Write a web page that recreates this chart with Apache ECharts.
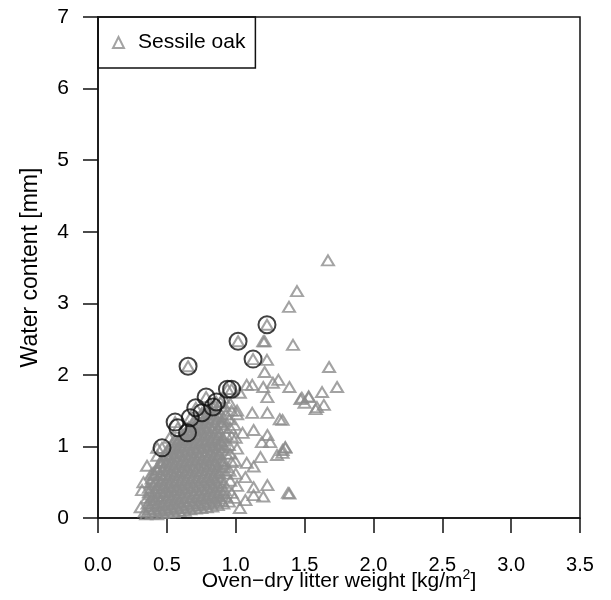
<!DOCTYPE html>
<html>
<head>
<meta charset="utf-8">
<script src="https://cdn.jsdelivr.net/npm/echarts@6/dist/echarts.min.js"></script>
<style>
  html, body { margin: 0; padding: 0; background: #fff; }
  #chart { width: 611px; height: 600px; }
</style>
</head>
<body>
<div id="chart"></div>
<script>
// tick labels
const xTicks = [0, 0.5, 1, 1.5, 2, 2.5, 3, 3.5];
const yTicks = [0, 1, 2, 3, 4, 5, 6, 7];

// sessile oak litter samples: [oven-dry weight kg/m2, water content mm]
const oakCloud = [
  [0.35,0.05],[0.37,0.12],[0.36,0.2],[0.355,0.28],[0.37,0.36],[0.34,0.09],
  [0.39,0.06],[0.41,0.13],[0.40,0.21],[0.395,0.3],[0.41,0.38],[0.40,0.47],[0.39,0.55],[0.41,0.61],
  [0.43,0.05],[0.45,0.12],[0.44,0.2],[0.435,0.29],[0.45,0.36],[0.44,0.45],[0.43,0.53],[0.455,0.6],[0.44,0.68],[0.45,0.77],
  [0.47,0.07],[0.49,0.14],[0.48,0.22],[0.475,0.31],[0.49,0.38],[0.48,0.46],[0.47,0.55],[0.49,0.62],[0.48,0.71],[0.475,0.8],[0.49,0.88],
  [0.51,0.08],[0.53,0.15],[0.52,0.24],[0.515,0.32],[0.53,0.4],[0.52,0.48],[0.51,0.57],[0.53,0.65],[0.52,0.73],[0.515,0.82],[0.53,0.9],[0.52,0.98],
  [0.55,0.08],[0.57,0.16],[0.56,0.25],[0.555,0.33],[0.57,0.42],[0.56,0.5],[0.55,0.59],[0.57,0.66],[0.56,0.75],[0.555,0.84],[0.57,0.92],[0.56,1.0],[0.55,1.07],
  [0.59,0.1],[0.61,0.18],[0.6,0.27],[0.595,0.35],[0.61,0.43],[0.6,0.52],[0.59,0.6],[0.61,0.68],[0.6,0.77],[0.595,0.86],[0.61,0.94],[0.6,1.02],[0.59,1.1],[0.61,1.16],
  [0.63,0.1],[0.65,0.19],[0.64,0.28],[0.635,0.36],[0.65,0.45],[0.64,0.53],[0.63,0.62],[0.65,0.7],[0.64,0.79],[0.635,0.88],[0.65,0.96],[0.64,1.05],[0.63,1.13],[0.65,1.21],
  [0.67,0.12],[0.69,0.2],[0.68,0.29],[0.675,0.38],[0.69,0.46],[0.68,0.55],[0.67,0.63],[0.69,0.72],[0.68,0.81],[0.675,0.89],[0.69,0.98],[0.68,1.06],[0.67,1.15],[0.69,1.23],[0.68,1.31],
  [0.71,0.13],[0.73,0.21],[0.72,0.3],[0.715,0.39],[0.73,0.47],[0.72,0.56],[0.71,0.65],[0.73,0.73],[0.72,0.82],[0.715,0.91],[0.73,0.99],[0.72,1.08],[0.71,1.17],[0.73,1.25],[0.72,1.33],[0.71,1.39],
  [0.75,0.14],[0.77,0.22],[0.76,0.31],[0.755,0.4],[0.77,0.49],[0.76,0.57],[0.75,0.66],[0.77,0.75],[0.76,0.83],[0.755,0.92],[0.77,1.01],[0.76,1.09],[0.75,1.18],[0.77,1.27],[0.76,1.36],[0.75,1.45],
  [0.79,0.15],[0.81,0.23],[0.8,0.32],[0.795,0.41],[0.81,0.5],[0.8,0.58],[0.79,0.67],[0.81,0.76],[0.8,0.85],[0.795,0.94],[0.81,1.02],[0.8,1.11],[0.79,1.2],[0.81,1.29],[0.8,1.38],[0.79,1.46],[0.81,1.53],
  [0.83,0.16],[0.85,0.25],[0.84,0.34],[0.835,0.43],[0.85,0.52],[0.84,0.6],[0.83,0.69],[0.85,0.78],[0.84,0.87],[0.835,0.96],[0.85,1.05],[0.84,1.13],[0.83,1.22],[0.85,1.31],[0.84,1.4],[0.83,1.48],[0.85,1.57],
  [0.87,0.18],[0.89,0.27],[0.88,0.36],[0.875,0.45],[0.89,0.54],[0.88,0.63],[0.87,0.72],[0.89,0.8],[0.88,0.89],[0.875,0.98],[0.89,1.07],[0.88,1.16],[0.87,1.25],[0.89,1.34],[0.88,1.42],[0.87,1.52],[0.89,1.62],
  [0.91,0.2],[0.93,0.3],[0.92,0.39],[0.915,0.49],[0.93,0.62],[0.92,0.71],[0.91,0.8],[0.93,0.9],[0.92,0.99],[0.915,1.08],[0.93,1.17],[0.92,1.26],[0.91,1.35],[0.93,1.45],[0.92,1.56],[0.91,1.68],
  [0.95,0.23],[0.97,0.35],[0.96,0.52],[0.955,0.66],[0.97,0.78],[0.96,0.9],[0.95,1.02],[0.97,1.14],[0.96,1.26],[0.955,1.38],[0.97,1.5],[0.96,1.6],
  [0.99,0.28],[1.01,0.45],[1.0,0.62],[0.995,0.8],[1.01,0.97],[1.0,1.12],[0.99,1.3],[1.01,1.45]
];

// more samples in the dense core
const oakCore = [
  [0.38,0.09],[0.375,0.17],[0.385,0.25],[0.38,0.33],[0.37,0.42],[0.385,0.5],
  [0.42,0.09],[0.425,0.17],[0.415,0.26],[0.42,0.34],[0.43,0.42],[0.42,0.51],[0.415,0.6],[0.425,0.68],
  [0.46,0.1],[0.465,0.18],[0.455,0.27],[0.46,0.35],[0.47,0.43],[0.46,0.51],[0.455,0.6],[0.465,0.68],[0.46,0.77],[0.47,0.84],
  [0.50,0.11],[0.505,0.19],[0.495,0.28],[0.50,0.36],[0.51,0.44],[0.50,0.53],[0.495,0.61],[0.505,0.69],[0.50,0.78],[0.51,0.86],[0.50,0.94],
  [0.54,0.12],[0.545,0.2],[0.535,0.29],[0.54,0.37],[0.55,0.45],[0.54,0.54],[0.535,0.62],[0.545,0.71],[0.54,0.79],[0.55,0.87],[0.54,0.96],[0.535,1.03],
  [0.58,0.13],[0.585,0.22],[0.575,0.3],[0.58,0.39],[0.59,0.47],[0.58,0.56],[0.575,0.64],[0.585,0.72],[0.58,0.81],[0.59,0.9],[0.58,0.98],[0.575,1.06],
  [0.62,0.14],[0.625,0.23],[0.615,0.31],[0.62,0.4],[0.63,0.49],[0.62,0.57],[0.615,0.66],[0.625,0.74],[0.62,0.83],[0.63,0.91],[0.62,1.0],[0.615,1.09],[0.625,1.17],
  [0.66,0.15],[0.665,0.24],[0.655,0.33],[0.66,0.42],[0.67,0.5],[0.66,0.59],[0.655,0.67],[0.665,0.76],[0.66,0.85],[0.67,0.93],[0.66,1.02],[0.655,1.1],[0.665,1.19],[0.66,1.27],
  [0.70,0.17],[0.705,0.25],[0.695,0.34],[0.70,0.43],[0.71,0.52],[0.70,0.6],[0.695,0.69],[0.705,0.78],[0.70,0.86],[0.71,0.95],[0.70,1.04],[0.695,1.12],[0.705,1.21],[0.70,1.29],
  [0.74,0.18],[0.745,0.27],[0.735,0.35],[0.74,0.44],[0.75,0.53],[0.74,0.62],[0.735,0.7],[0.745,0.79],[0.74,0.88],[0.75,0.97],[0.74,1.05],[0.735,1.14],[0.745,1.23],[0.74,1.32],[0.75,1.41],
  [0.78,0.19],[0.785,0.28],[0.775,0.37],[0.78,0.45],[0.79,0.54],[0.78,0.63],[0.775,0.72],[0.785,0.81],[0.78,0.89],[0.79,0.98],[0.78,1.07],[0.775,1.16],[0.785,1.25],[0.78,1.34],
  [0.82,0.2],[0.825,0.29],[0.815,0.38],[0.82,0.47],[0.83,0.56],[0.82,0.64],[0.815,0.73],[0.825,0.82],[0.82,0.91],[0.83,1.0],[0.82,1.09],[0.815,1.18],[0.825,1.26],[0.82,1.44],
  [0.86,0.22],[0.865,0.31],[0.855,0.4],[0.86,0.49],[0.87,0.57],[0.86,0.66],[0.855,0.75],[0.865,0.84],[0.86,0.93],[0.87,1.02],[0.86,1.11],[0.855,1.2],[0.865,1.38],[0.86,1.46],
  [0.90,0.24],[0.905,0.34],[0.895,0.44],[0.90,0.67],[0.91,0.76],[0.90,0.95],[0.895,1.04],[0.905,1.13],[0.90,1.31],[0.91,1.4]
];

const oakSparse = [
  [1.01,1.50],[1.12,1.47],[1.23,1.47],[1.32,1.38],[1.05,1.19],[1.13,1.23],[1.23,1.16],[1.25,1.06],[1.36,0.99],
  [1.34,0.95],[1.30,0.88],[1.18,0.85],[1.08,0.77],[1.13,0.72],[1.07,0.57],[1.13,0.43],[1.23,0.46],[1.38,0.35],
  [1.13,0.32],[1.20,0.30],[1.07,0.25],[1.03,0.14],[1.19,1.06],[1.20,2.47],[1.21,2.47],[1.227,2.21],[1.21,2.04],
  [1.31,1.93],[1.39,1.83],[1.27,1.89],[1.08,1.86],[1.12,1.86],[1.20,1.83],[1.23,1.69],[1.03,1.75],[1.48,1.68],
  [1.53,1.69],[1.50,1.61],[1.59,1.55],[1.67,3.60],[1.445,3.17],[1.387,2.95],[1.416,2.42],[1.678,2.11],[1.736,1.83],
  [1.627,1.76],[1.53,1.70],[1.47,1.66],[1.58,1.52],[1.64,1.58],[1.34,1.37],[1.36,0.98],[1.34,0.91],[1.39,0.34],
  [0.356,0.73],[0.40,0.63],[0.32,0.39],[0.31,0.15],[0.43,0.98],[0.43,0.87],[0.56,1.09],[0.52,1.12],[0.385,0.61],[0.33,0.5]
];

// samples marked with a circle
const oakCircled = [
  [1.227,2.70],[1.017,2.47],[1.126,2.22],[0.654,2.12],[0.94,1.80],[0.97,1.80],[0.785,1.69],[0.86,1.62],
  [0.835,1.55],[0.71,1.54],[0.755,1.47],[0.67,1.40],[0.56,1.34],[0.58,1.26],[0.65,1.19],[0.465,0.98]
];

const FONT = 'Liberation Sans, Arial, Helvetica, sans-serif';
const triStyle = { color: 'rgba(0,0,0,0)', borderColor: '#8c8c8c', borderWidth: 2 };

const chart = echarts.init(document.getElementById('chart'), null, { renderer: 'canvas' });
chart.setOption({
  animation: false,
  backgroundColor: '#fff',
  grid: {
    left: 98, top: 17, right: 31, bottom: 82,
    outerBoundsMode: 'none',
    show: true, borderColor: '#111', borderWidth: 1.5
  },
  legend: {
    left: 98, top: 17,
    orient: 'vertical',
    padding: [15, 10, 15, 14],
    borderColor: '#111', borderWidth: 1.5,
    itemWidth: 11, itemHeight: 11,
    textStyle: { fontFamily: FONT, fontSize: 21, color: '#000', padding: [0, 0, 0, 9] },
    data: [{ name: 'Sessile oak', icon: 'triangle', itemStyle: triStyle }]
  },
  xAxis: {
    type: 'value', min: 0, max: 3.5, interval: 0.5,
    name: 'Oven−dry litter weight [kg/m{sup|2}]',
    nameLocation: 'middle', nameGap: 50,
    nameMoveOverlap: false,
    nameTextStyle: {
      fontFamily: FONT, fontSize: 21, color: '#000',
      rich: { sup: { fontFamily: FONT, fontSize: 14, color: '#000', verticalAlign: 'bottom', padding: [0, 0, 12, 0] } }
    },
    axisLine: { show: true, lineStyle: { color: '#111', width: 1.5 } },
    axisTick: { show: true, inside: false, length: 15, lineStyle: { color: '#111', width: 1.5 } },
    axisLabel: {
      margin: 37, fontFamily: FONT, fontSize: 20, color: '#000',
      formatter: v => xTicks.includes(v) ? v.toFixed(1) : ''
    },
    splitLine: { show: false }
  },
  yAxis: {
    type: 'value', min: 0, max: 7, interval: 1,
    name: 'Water content [mm]',
    nameLocation: 'middle', nameGap: 56,
    nameMoveOverlap: false,
    nameTextStyle: { fontFamily: FONT, fontSize: 23, color: '#000' },
    axisLine: { show: true, lineStyle: { color: '#111', width: 1.5 } },
    axisTick: { show: true, inside: false, length: 15, lineStyle: { color: '#111', width: 1.5 } },
    axisLabel: {
      margin: 29, fontFamily: FONT, fontSize: 21, color: '#000',
      formatter: v => yTicks.includes(v) ? String(v) : ''
    },
    splitLine: { show: false }
  },
  series: [
    {
      name: 'Sessile oak',
      type: 'scatter',
      symbol: 'triangle',
      symbolSize: [12, 10],
      itemStyle: triStyle,
      emphasis: { disabled: true },
      data: oakCloud.concat(oakCore, oakSparse, oakCircled)
    },
    {
      name: 'circled',
      type: 'scatter',
      symbol: 'circle',
      symbolSize: 17,
      itemStyle: { color: 'rgba(0,0,0,0)', borderColor: '#111', borderWidth: 2 },
      emphasis: { disabled: true },
      data: oakCircled
    }
  ]
});
</script>
</body>
</html>
